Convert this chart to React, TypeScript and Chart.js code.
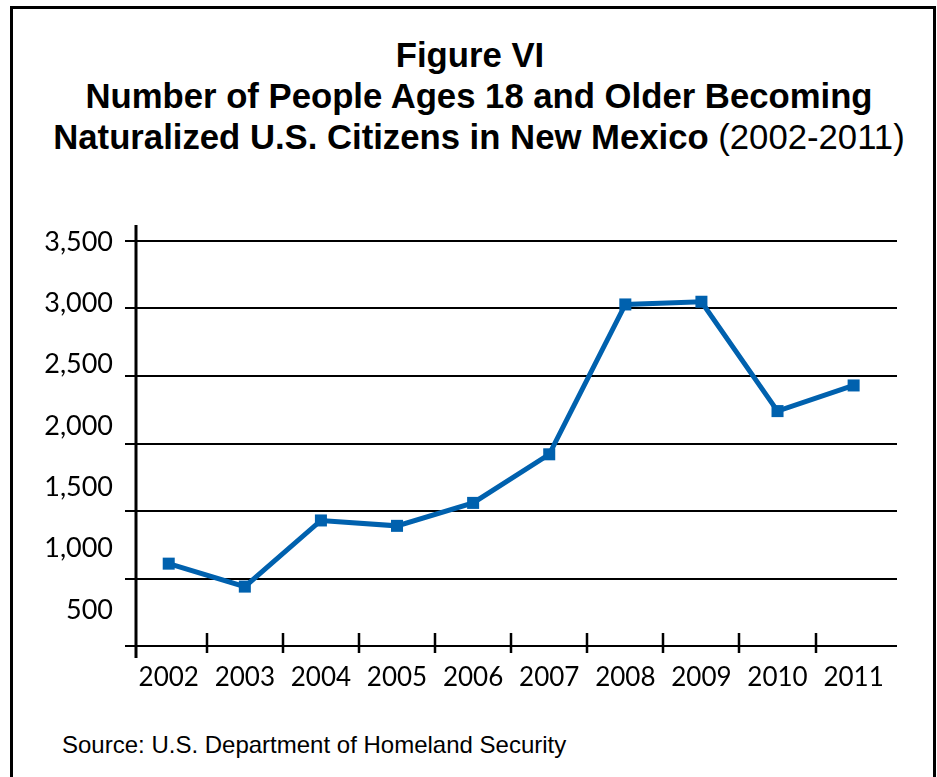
import React, { useEffect, useRef } from "react";
import { Chart, registerables } from "chart.js";

Chart.register(...registerables);

// ---- data ----
const YEARS = ["2002", "2003", "2004", "2005", "2006", "2007", "2008", "2009", "2010", "2011"];
const NATURALIZED = [1110, 940, 1430, 1390, 1560, 1920, 3030, 3050, 2240, 2430];
const Y_TICKS = [500, 1000, 1500, 2000, 2500, 3000, 3500];

const TITLE_LINE1 = "Figure VI";
const TITLE_LINE2 = "Number of People Ages 18 and Older Becoming";
const TITLE_LINE3_BOLD = "Naturalized U.S. Citizens in New Mexico";
const TITLE_LINE3_REG = " (2002-2011)";
const SOURCE = "Source: U.S. Department of Homeland Security";

const BLUE = "#0061AE";

const axisDecor = {
  id: "axisDecor",
  beforeDatasetsDraw(chart: any) {
    const { ctx, chartArea, scales } = chart;
    const x = scales.x;
    ctx.save();
    ctx.strokeStyle = "#000";
    ctx.lineWidth = 2.5;
    ctx.beginPath();
    for (let i = 0; i < YEARS.length - 1; i++) {
      const px = Math.round(x.getPixelForValue(i + 0.5));
      ctx.moveTo(px, chartArea.bottom - 13);
      ctx.lineTo(px, chartArea.bottom + 7);
    }
    ctx.stroke();
    ctx.lineWidth = 3;
    ctx.beginPath();
    ctx.moveTo(chartArea.left, chartArea.top - 16);
    ctx.lineTo(chartArea.left, chartArea.bottom + 12);
    ctx.stroke();
    ctx.restore();
  },
};

function LineChart() {
  const ref = useRef<HTMLCanvasElement | null>(null);
  useEffect(() => {
    if (!ref.current) return;
    const chart = new Chart(ref.current, {
      type: "line",
      data: {
        datasets: [
          {
            data: NATURALIZED.map((v, i) => ({ x: i, y: v })),
            borderColor: BLUE,
            backgroundColor: BLUE,
            borderWidth: 5,
            pointStyle: "rect",
            pointRadius: 8.5,
            pointBackgroundColor: BLUE,
            pointBorderWidth: 0,
            tension: 0,
            yAxisID: "y",
          },
        ],
      },
      options: {
        animation: false,
        responsive: false,
        layout: { padding: { top: 41, right: 36, bottom: 0, left: 0 } },
        plugins: {
          legend: { display: false },
          tooltip: { enabled: false },
        },
        scales: {
          x: {
            type: "linear",
            min: -0.43,
            max: 9.57,
            afterBuildTicks: (s: any) => {
              s.ticks = YEARS.map((_, i) => ({ value: i }));
            },
            afterFit: (s: any) => {
              s.height = 54;
            },
            grid: { display: false, drawTicks: false },
            border: { display: false },
            ticks: {
              autoSkip: false,
              maxRotation: 0,
              padding: 16,
              color: "#000",
              font: { family: "Lato", size: 26 },
              callback: (v: any) => YEARS[Math.round(Number(v))] ?? "",
            },
          },
          y: {
            position: "left",
            weight: 0,
            min: 500,
            max: 3500,
            afterBuildTicks: (s: any) => {
              s.ticks = Y_TICKS.map((v) => ({ value: v }));
            },
            afterFit: (s: any) => {
              s.width = 11;
            },
            grid: { color: "#000", lineWidth: 2, drawTicks: true, tickLength: 11, tickColor: "#000", tickWidth: 2 },
            border: { display: false },
            ticks: { display: false },
          },
          yl: {
            position: "left",
            weight: 10,
            min: 207,
            max: 3508,
            afterBuildTicks: (s: any) => {
              s.ticks = Y_TICKS.map((v) => ({ value: v }));
            },
            afterFit: (s: any) => {
              s.width = 112;
            },
            grid: { display: false, drawTicks: false },
            border: { display: false },
            ticks: {
              padding: 12,
              color: "#000",
              font: { family: "Lato", size: 27 },
              callback: (v: any) => Number(v).toLocaleString("en-US"),
            },
          },
        },
      },
      plugins: [axisDecor],
    } as any);
    return () => chart.destroy();
  }, []);
  return <canvas ref={ref} width={920} height={500} style={{ position: "absolute", left: 0, top: 191, width: 920, height: 500 }} />;
}

export default function App() {
  return (
    <div
      style={{
        position: "absolute",
        left: 10,
        top: 6,
        width: 926,
        height: 771,
        border: "3px solid #000",
        borderBottom: "none",
        boxSizing: "border-box",
        background: "#fff",
        overflow: "hidden",
      }}
    >
      <div
        style={{
          position: "absolute",
          top: 26,
          left: 0,
          right: 0,
          textAlign: "center",
          fontFamily: "'Liberation Sans', Arial, sans-serif",
          fontWeight: "bold",
          fontSize: 34.7,
          lineHeight: "41px",
          color: "#000",
          whiteSpace: "nowrap",
        }}
      >
        <div style={{ position: "relative", left: -3 }}>{TITLE_LINE1}</div>
        <div style={{ position: "relative", left: 6 }}>{TITLE_LINE2}</div>
        <div style={{ position: "relative", left: 6 }}>
          {TITLE_LINE3_BOLD}
          <span style={{ fontWeight: "normal" }}>{TITLE_LINE3_REG}</span>
        </div>
      </div>
      <LineChart />
      <div
        style={{
          position: "absolute",
          left: 49,
          top: 722,
          fontFamily: "'Liberation Sans', Arial, sans-serif",
          fontSize: 24,
          lineHeight: "28px",
          color: "#000",
          whiteSpace: "nowrap",
        }}
      >
        {SOURCE}
      </div>
    </div>
  );
}
